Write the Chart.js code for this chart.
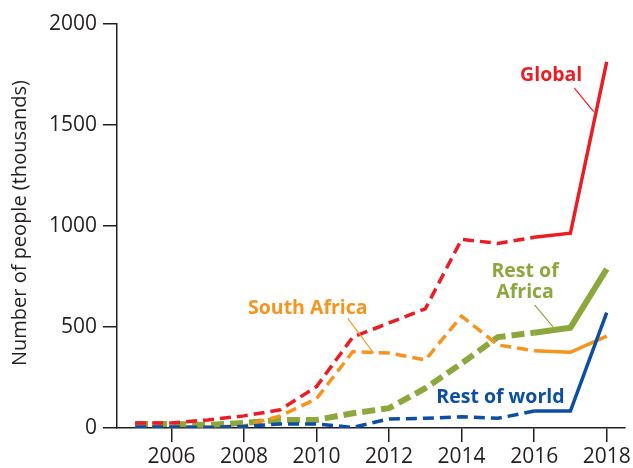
<!DOCTYPE html>
<html>
<head>
<meta charset="utf-8">
<script src="https://cdn.jsdelivr.net/npm/chart.js@4"></script>
<style>
  html, body { margin: 0; padding: 0; background: #fff; }
  #wrap { width: 633px; height: 468px; }
</style>
</head>
<body>
<div id="wrap"><canvas id="chart" width="633" height="468"></canvas></div>
<script>
const years = [2005, 2006, 2007, 2008, 2009, 2010, 2011, 2012, 2013, 2014, 2015, 2016, 2017, 2018];
const yearTicks = [2006, 2008, 2010, 2012, 2014, 2016, 2018];

// thousands of people
const globalVals      = [25, 25, 40, 60, 90, 205, 450, 520, 590, 934, 914, 944, 964, 1812];
const southAfrica     = [5, 5, 5, 10, 60, 145, 378, 371, 337, 554, 411, 383, 375, 455];
const restOfAfrica    = [20, 20, 15, 25, 40, 40, 73, 98, 197, 320, 450, 472, 497, 787];
const restOfWorld     = [5, 5, 3, 8, 20, 20, 3, 45, 48, 56, 48, 84, 84, 571];

// series is dashed up to this year, solid afterwards
const solidFrom = 2016;

const INK = '#231f20';
const RED = '#ed1c24';
const ORANGE = '#f7941d';
const GREEN = '#8ca83c';
const BLUE = '#0b4ea2';

// callout labels and leader lines, in data units
const callouts = [
  { lines: ['Global'], at: [2016.47, 1745], color: RED, leader: [[2017.11, 1682], [2017.64, 1566]] },
  { lines: ['South Africa'], at: [2009.76, 594], color: ORANGE, leader: [[2010.86, 543], [2011.58, 370]] },
  { lines: ['Rest of', 'Africa'], at: [2015.75, 723], color: GREEN, leader: [[2016.01, 609], [2016.52, 501]] },
  { lines: ['Rest of world'], at: [2015.07, 149], color: BLUE, leader: null }
];

function pts(vals) {
  return years.map((y, i) => ({ x: y, y: vals[i] }));
}

function series(label, vals, color, width, dash, order) {
  return {
    label: label,
    data: pts(vals),
    borderColor: color,
    backgroundColor: color,
    borderWidth: width,
    borderCapStyle: 'butt',
    borderJoinStyle: 'miter',
    pointRadius: 0,
    tension: 0,
    order: order,
    segment: {
      borderDash: ctx => ctx.p0.parsed.x < solidFrom ? dash : []
    }
  };
}

const annotate = {
  id: 'annotate',
  afterDraw(chart) {
    const ctx = chart.ctx;
    const xs = chart.scales.x, ys = chart.scales.y;
    ctx.save();
    // axis title
    ctx.fillStyle = INK;
    ctx.font = '20px "Open Sans"';
    ctx.textAlign = 'center';
    ctx.textBaseline = 'middle';
    ctx.translate(20, 223);
    ctx.rotate(-Math.PI / 2);
    ctx.fillText('Number of people (thousands)', 0, 0);
    ctx.setTransform(1, 0, 0, 1, 0, 0);

    ctx.font = 'bold 19.5px "Open Sans"';
    callouts.forEach(c => {
      const cx = xs.getPixelForValue(c.at[0]);
      const cy = ys.getPixelForValue(c.at[1]);
      const lh = 21;
      ctx.fillStyle = c.color;
      c.lines.forEach((t, i) => {
        ctx.fillText(t, cx, cy + (i - (c.lines.length - 1) / 2) * lh);
      });
      if (c.leader) {
        ctx.strokeStyle = c.color;
        ctx.lineWidth = 1.2;
        ctx.beginPath();
        ctx.moveTo(xs.getPixelForValue(c.leader[0][0]), ys.getPixelForValue(c.leader[0][1]));
        ctx.lineTo(xs.getPixelForValue(c.leader[1][0]), ys.getPixelForValue(c.leader[1][1]));
        ctx.stroke();
      }
    });
    ctx.restore();
  }
};

new Chart(document.getElementById('chart'), {
  type: 'line',
  data: {
    datasets: [
      series('Global', globalVals, RED, 3.5, [11, 6], 0),
      series('Rest of world', restOfWorld, BLUE, 3.5, [11, 6], 1),
      series('South Africa', southAfrica, ORANGE, 3.5, [11, 6], 2),
      series('Rest of Africa', restOfAfrica, GREEN, 6, [13, 6], 3)
    ]
  },
  options: {
    responsive: false,
    animation: false,
    layout: { padding: { top: 24, right: 8, left: 0, bottom: 0 } },
    plugins: {
      legend: { display: false },
      tooltip: { enabled: false }
    },
    scales: {
      x: {
        type: 'linear',
        min: 2004.5,
        max: 2018.5,
        afterBuildTicks: scale => { scale.ticks = yearTicks.map(v => ({ value: v })); },
        afterFit: scale => { scale.height = 40; },
        grid: { drawOnChartArea: false, tickLength: 14, color: INK, lineWidth: 1.5 },
        border: { display: true, color: INK, width: 1.5 },
        ticks: {
          color: INK,
          font: { family: '"Open Sans"', size: 21 },
          padding: 2,
          maxRotation: 0,
          callback: v => String(v)
        }
      },
      y: {
        min: 0,
        max: 2000,
        afterFit: scale => { scale.width = 117; },
        grid: { drawOnChartArea: false, tickLength: 14, color: INK, lineWidth: 1.5 },
        border: { display: true, color: INK, width: 1.5 },
        ticks: {
          stepSize: 500,
          color: INK,
          font: { family: '"Open Sans"', size: 21 },
          padding: 6,
          callback: v => String(v)
        }
      }
    }
  },
  plugins: [annotate]
});
</script>
</body>
</html>
